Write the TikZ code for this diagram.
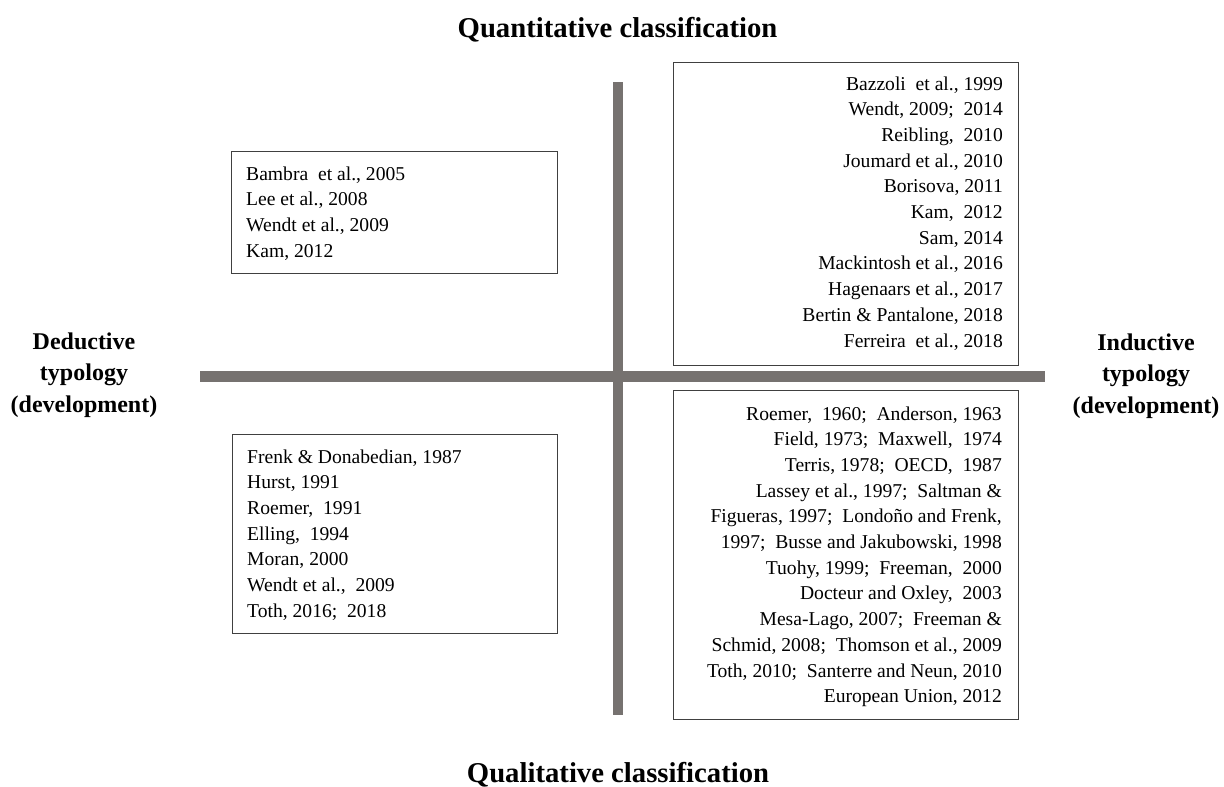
\documentclass[tikz,border=0pt]{standalone}
\usepackage{fontspec}
\setmainfont{Liberation Serif}
\definecolor{barcol}{RGB}{118,114,112}
\definecolor{boxcol}{RGB}{64,64,64}
\tikzset{
  bar/.style={draw=barcol},
  refbox/.style={draw=boxcol, line width=1.1pt, inner sep=0pt},
  reftext/.style={inner sep=0pt, font=\fontsize{19.6}{25.7}\selectfont},
  head/.style={inner sep=0pt, font=\fontsize{28.7}{32}\selectfont\bfseries},
  side/.style={inner sep=0pt, font=\fontsize{24}{31.5}\selectfont\bfseries}
}
\begin{document}
\begin{tikzpicture}[x=1pt,y=-1pt]
\useasboundingbox (0,0) rectangle (1224,787);
% axes
\coordinate (vtop) at (617.5,82);
\coordinate (vbot) at (617.5,715);
\coordinate (hleft) at (200,376.5);
\coordinate (hright) at (1045,376.5);
\draw[bar, line width=10pt] (vtop) -- (vbot);
\draw[bar, line width=11pt] (hleft) -- (hright);
% headings
\node[head, anchor=base] (quant) at (617.5,37) {Quantitative classification};
\node[head, anchor=base] (qual) at (618,782) {Qualitative classification};
\node[side, anchor=base] (ded) at (84,349) {\begin{tabular}[t]{@{}c@{}}Deductive\\typology\\(development)\end{tabular}};
\node[side, anchor=base] (ind) at (1146,350) {\begin{tabular}[t]{@{}c@{}}Inductive\\typology\\(development)\end{tabular}};
% boxes
\node[refbox, anchor=north west, minimum width=326pt, minimum height=122pt] (tl) at (231,151) {};
\node[refbox, anchor=north west, minimum width=325pt, minimum height=199pt] (bl) at (231.5,434) {};
\node[refbox, anchor=north west, minimum width=345pt, minimum height=303pt] (tr) at (673,62) {};
\node[refbox, anchor=north west, minimum width=345pt, minimum height=329pt] (br) at (673,390) {};
% texts
\node[reftext, anchor=base west] (tltext) at (246,180) {\begin{tabular}[t]{@{}l@{}}
Bambra\ \ et al., 2005\\
Lee et al., 2008\\
Wendt et al., 2009\\
Kam, 2012\end{tabular}};
\node[reftext, anchor=base west] (bltext) at (247,463) {\begin{tabular}[t]{@{}l@{}}
Frenk \& Donabedian, 1987\\
Hurst, 1991\\
Roemer,\ \ 1991\\
Elling,\ \ 1994\\
Moran, 2000\\
Wendt et al.,\ \ 2009\\
Toth, 2016;\ \ 2018\end{tabular}};
\node[reftext, anchor=base east] (trtext) at (1003,90) {\begin{tabular}[t]{@{}r@{}}
Bazzoli\ \ et al., 1999\\
Wendt, 2009;\ \ 2014\\
Reibling,\ \ 2010\\
Joumard et al., 2010\\
Borisova, 2011\\
Kam,\ \ 2012\\
Sam, 2014\\
Mackintosh et al., 2016\\
Hagenaars et al., 2017\\
Bertin \& Pantalone, 2018\\
Ferreira\ \ et al., 2018\end{tabular}};
\node[reftext, anchor=base east] (brtext) at (1002,420) {\begin{tabular}[t]{@{}r@{}}
Roemer,\ \ 1960;\ \ Anderson, 1963\\
Field, 1973;\ \ Maxwell,\ \ 1974\\
Terris, 1978;\ \ OECD,\ \ 1987\\
Lassey et al., 1997;\ \ Saltman \&\\
Figueras, 1997;\ \ Londoño and Frenk,\\
1997;\ \ Busse and Jakubowski, 1998\\
Tuohy, 1999;\ \ Freeman,\ \ 2000\\
Docteur and Oxley,\ \ 2003\\
Mesa-Lago, 2007;\ \ Freeman \&\\
Schmid, 2008;\ \ Thomson et al., 2009\\
Toth, 2010;\ \ Santerre and Neun, 2010\\
European Union, 2012\end{tabular}};
\end{tikzpicture}
\end{document}
